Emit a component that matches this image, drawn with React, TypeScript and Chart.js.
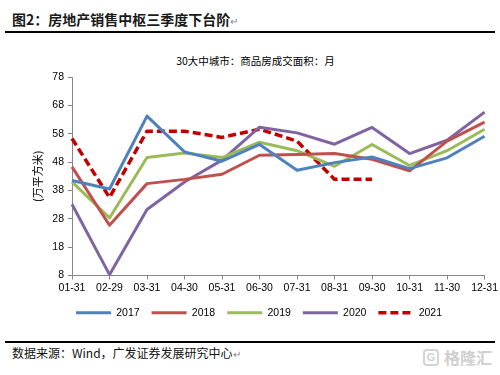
import React, { useEffect, useRef } from "react";
import { Chart, registerables } from "chart.js";

Chart.register(...registerables);

const categories = ["01-31", "02-29", "03-31", "04-30", "05-31", "06-30", "07-31", "08-31", "09-30", "10-31", "11-30", "12-31"];
const s2017 = [41.5, 38.5, 64.2, 51.6, 48.3, 54.2, 45.1, 47.8, 49.8, 45.7, 49.5, 57.1];
const s2018 = [46.3, 25.7, 40.4, 41.9, 43.7, 50.4, 50.7, 51.0, 49.0, 44.9, 55.4, 62.1];
const s2019 = [41.0, 28.3, 49.6, 51.2, 49.6, 55.0, 52.0, 46.5, 54.2, 46.8, 52.0, 59.6];
const s2020 = [33.1, 8.3, 31.3, 41.0, 48.7, 60.3, 58.3, 54.3, 60.2, 51.0, 55.7, 65.6];
const s2021 = [56.3, 35.5, 58.9, 58.9, 56.7, 59.6, 55.4, 41.9, 41.9, null, null, null];
const seriesNames = ["2017", "2018", "2019", "2020", "2021"];
const yMin = 8;
const yMax = 78;
const yStep = 10;

const titleText = "图2：房地产销售中枢三季度下台阶";
const subtitleText = "30大中城市：商品房成交面积：月";
const yAxisTitle = "(万平方米)";
const sourceText = "数据来源：Wind，广发证券发展研究中心";

export default function App() {
  const ref = useRef<HTMLCanvasElement | null>(null);

  useEffect(() => {
    if (!ref.current) return;
    const tickFont = { family: "'Liberation Sans', Arial, sans-serif", size: 10.5 };
    const mk = (label: string, data: (number | null)[], color: string, dash?: number[]) => ({
      label,
      data,
      borderColor: color,
      backgroundColor: color,
      borderWidth: dash ? 3.5 : 3,
      borderDash: dash || [],
      pointRadius: 0,
      pointHoverRadius: 0,
      tension: 0,
      fill: false,
      spanGaps: false,
      borderJoinStyle: "round" as const,
    });
    const baseGen = (Chart.defaults.plugins.legend.labels as any).generateLabels;
    const chart = new Chart(ref.current, {
      type: "line",
      data: {
        labels: categories,
        datasets: [
          mk(seriesNames[0], s2017, "#4F81BD"),
          mk(seriesNames[1], s2018, "#C0504D"),
          mk(seriesNames[2], s2019, "#9BBB59"),
          mk(seriesNames[3], s2020, "#8064A2"),
          mk(seriesNames[4], s2021, "#C00000", [8, 4]),
        ],
      },
      options: {
        responsive: false,
        animation: false,
        devicePixelRatio: 1,
        layout: { padding: { left: 30, right: 12, top: 37, bottom: 12 } },
        plugins: {
          tooltip: { enabled: false },
          title: { display: false },
          legend: {
            display: true,
            position: "bottom",
            labels: {
              usePointStyle: true,
              pointStyle: "line",
              pointStyleWidth: 35,
              boxHeight: 10,
              padding: 12,
              color: "#000",
              font: tickFont,
              generateLabels: (c: any) => {
                const items = baseGen(c);
                return items.map((it: any) => {
                  const ds = c.data.datasets[it.datasetIndex];
                  return { ...it, lineDash: ds.borderDash || [], lineWidth: ds.borderWidth, strokeStyle: ds.borderColor, pointStyle: "line" };
                });
              },
            },
          },
        },
        scales: {
          x: {
            type: "category",
            offset: false,
            afterFit: (s: any) => { s.height = 20; },
            grid: { drawOnChartArea: false, drawTicks: true, tickLength: 4, color: "#868686" },
            border: { color: "#868686", width: 1 },
            ticks: { color: "#000", font: tickFont, padding: 2, maxRotation: 0, autoSkip: false },
          },
          y: {
            min: yMin,
            max: yMax,
            afterFit: (s: any) => { s.width = 42; },
            grid: { drawOnChartArea: false, drawTicks: true, tickLength: 4, color: "#868686" },
            border: { color: "#868686", width: 1 },
            ticks: { stepSize: yStep, color: "#000", font: tickFont, padding: 4 },
            title: {
              display: true,
              text: yAxisTitle,
              color: "#000",
              font: { family: "'Noto Sans CJK SC', sans-serif", size: 11 },
              padding: { top: 1, bottom: 0 },
            },
          },
        },
      },
    });
    return () => chart.destroy();
  }, []);

  return (
    <div style={{ position: "absolute", left: 0, top: 0, width: 500, height: 375, background: "#fff", overflow: "hidden", fontFamily: "'Noto Sans CJK SC', sans-serif" }}>
      <div style={{ position: "absolute", left: 12, top: 10, fontSize: 14, fontWeight: 700, color: "#1a1a1a", lineHeight: "18px", whiteSpace: "nowrap" }}>
        {titleText}<span style={{ fontSize: 10, color: "#888", fontWeight: 400 }}>↵</span>
      </div>
      <div style={{ position: "absolute", left: 5, top: 31, width: 490, height: 1.5, background: "#000" }} />
      <div style={{ position: "absolute", left: 0, width: 511, top: 54, textAlign: "center", fontSize: 10.5, color: "#000", lineHeight: "14px", whiteSpace: "nowrap" }}>
        {subtitleText}
      </div>
      <canvas ref={ref} width={500} height={300} style={{ position: "absolute", left: 0, top: 40, width: 500, height: 300 }} />
      <div style={{ position: "absolute", left: 5, top: 341, width: 490, height: 1.5, background: "#000" }} />
      <div style={{ position: "absolute", left: 12, top: 345, fontSize: 12, color: "#111", lineHeight: "16px", whiteSpace: "nowrap" }}>
        {sourceText}<span style={{ fontSize: 10, color: "#888" }}>↵</span>
      </div>
      <div style={{ position: "absolute", left: 423, top: 347, display: "flex", alignItems: "center", color: "#cfcfcf", whiteSpace: "nowrap" }}>
        <div style={{ width: 16, height: 17, border: "2px solid #d4d4d4", borderRadius: 4, boxSizing: "border-box", fontSize: 11, fontWeight: 700, lineHeight: "13px", textAlign: "center", fontFamily: "'Liberation Sans', sans-serif" }}>G</div>
        <span style={{ marginLeft: 5, fontSize: 16, lineHeight: "20px", fontWeight: 700 }}>格隆汇</span>
      </div>
    </div>
  );
}
